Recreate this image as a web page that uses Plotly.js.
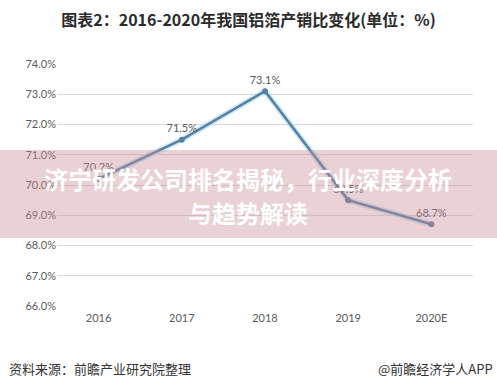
<!DOCTYPE html>
<html>
<head>
<meta charset="utf-8">
<script src="https://cdn.plot.ly/plotly-3.0.1.min.js"></script>
<style>html,body{margin:0;padding:0;background:#fff;}#chart{width:497px;height:388px;}</style>
</head>
<body>
<div id="chart"></div>
<script>
const years = ['2016', '2017', '2018', '2019', '2020E'];
const ratio = [70.2, 71.5, 73.1, 69.5, 68.7];
const yTicks = [66, 67, 68, 69, 70, 71, 72, 73, 74];
const yTickLabels = ['66.0%', '67.0%', '68.0%', '69.0%', '70.0%', '71.0%', '72.0%', '73.0%', '74.0%'];

const cjk = '"Noto Sans CJK SC", "Microsoft YaHei", sans-serif';
const num = 'Lato, "Noto Sans", sans-serif';

const traces = [
  {
    x: years, y: ratio, type: 'scatter', mode: 'lines',
    line: {color: 'rgba(170,225,245,0.6)', width: 6},
    hoverinfo: 'skip', showlegend: false
  },
  {
    x: years, y: ratio, type: 'scatter', mode: 'lines+markers+text',
    line: {color: '#5b7fa2', width: 2.5},
    marker: {color: '#5b7fa2', size: 6},
    text: ratio.map(v => v.toFixed(1) + '%'),
    textposition: 'top center',
    textfont: {family: num, size: 11, color: '#595959'},
    cliponaxis: false,
    showlegend: false
  }
];

const layout = {
  width: 497, height: 388,
  margin: {l: 57, r: 24, t: 64, b: 82},
  paper_bgcolor: '#ffffff', plot_bgcolor: '#ffffff',
  title: {
    text: '<b>图表2：2016-2020年我国铝箔产销比变化(单位：%)</b>',
    font: {family: cjk, size: 16, color: '#2b2b2b'},
    x: 0.5, xref: 'container', xanchor: 'center',
    y: 1 - 20 / 388, yref: 'container', yanchor: 'middle'
  },
  xaxis: {
    type: 'category', range: [-0.5, 4.5],
    showgrid: false, zeroline: false, showline: false,
    ticks: '', tickfont: {family: num, size: 11, color: '#595959'},
    ticklabelstandoff: 4
  },
  yaxis: {
    range: [66, 74], tickvals: yTicks, ticktext: yTickLabels,
    showgrid: true, gridcolor: '#d9d9d9', gridwidth: 1,
    zeroline: false, showline: false, ticks: '',
    tickfont: {family: num, size: 11, color: '#595959'}
  },
  shapes: [
    {type: 'rect', xref: 'paper', yref: 'paper', layer: 'above',
     x0: -0.2, x1: 1.1, y0: (306 - 238) / 242, y1: (306 - 150) / 242,
     line: {width: 0}, fillcolor: 'rgba(200,140,150,0.4)'}
  ],
  annotations: [
    {text: '<b>济宁研发公司排名揭秘，行业深度分析</b>', xref: 'paper', yref: 'paper',
     x: (248 - 57) / 415, y: (306 - 178) / 242, xanchor: 'center', yanchor: 'middle',
     showarrow: false, font: {family: cjk, size: 24, color: '#ffffff'}},
    {text: '<b>与趋势解读</b>', xref: 'paper', yref: 'paper',
     x: (248 - 57) / 415, y: (306 - 212) / 242, xanchor: 'center', yanchor: 'middle',
     showarrow: false, font: {family: cjk, size: 24, color: '#ffffff'}},
    {text: '资料来源：前瞻产业研究院整理', xref: 'paper', yref: 'paper',
     x: (7 - 57) / 415, y: (306 - 368) / 242, xanchor: 'left', yanchor: 'middle',
     showarrow: false, font: {family: cjk, size: 13, color: '#333333'}},
    {text: '@前瞻经济学人APP', xref: 'paper', yref: 'paper',
     x: (494 - 57) / 415, y: (306 - 368) / 242, xanchor: 'right', yanchor: 'middle',
     showarrow: false, font: {family: cjk, size: 13, color: '#333333'}}
  ]
};

Plotly.newPlot('chart', traces, layout, {displayModeBar: false, staticPlot: true});
</script>
</body>
</html>
